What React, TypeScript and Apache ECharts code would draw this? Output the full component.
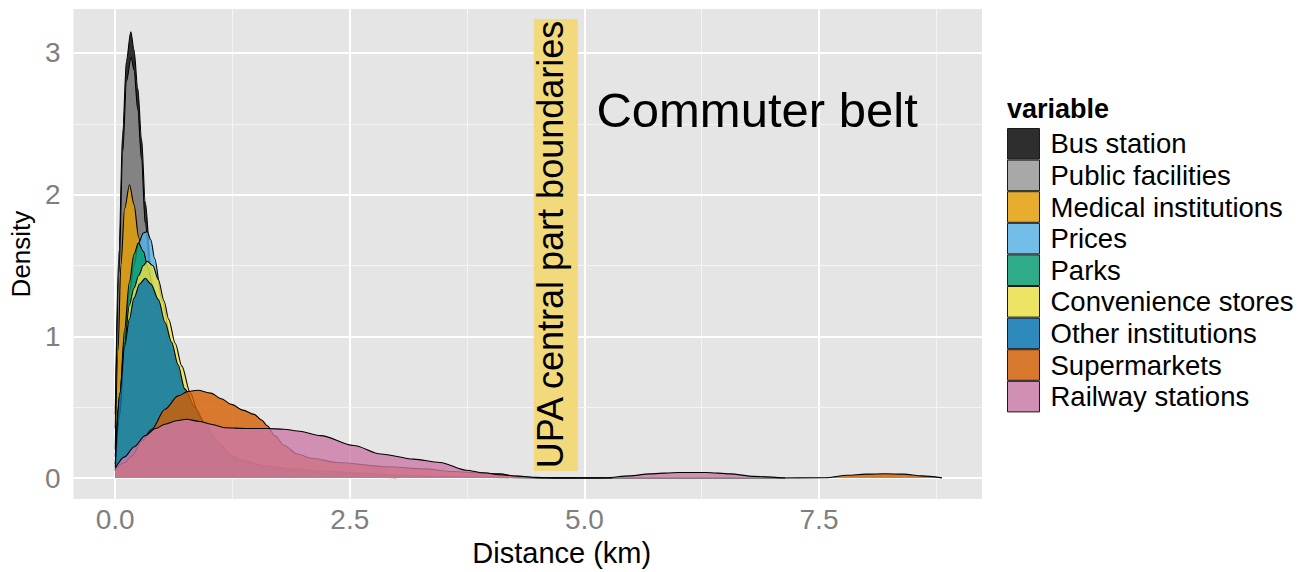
import React, { useEffect, useRef } from 'react';
import * as echarts from 'echarts';

const FONT = '"Liberation Sans", Arial, Helvetica, sans-serif';

const seriesNames = [
  'Bus station',
  'Public facilities',
  'Medical institutions',
  'Prices',
  'Parks',
  'Convenience stores',
  'Other institutions',
  'Supermarkets',
  'Railway stations',
];

// fills (alpha 0.8) and their legend key look over the grey panel
const fillColors = [
  'rgba(0,0,0,0.8)',
  'rgba(153,153,153,0.8)',
  'rgba(230,159,0,0.8)',
  'rgba(86,180,233,0.8)',
  'rgba(0,158,115,0.8)',
  'rgba(240,228,66,0.8)',
  'rgba(0,114,178,0.8)',
  'rgba(213,94,0,0.8)',
  'rgba(204,121,167,0.8)',
];
const legendColors = ['#2E2E2E', '#A8A8A8', '#E6AD2E', '#73BEE8', '#2EAC8A', '#EEE463', '#2E89BC', '#D8792E', '#D18FB4'];

const busStation = [[0,0.45],[0.04,1.6],[0.08,2.45],[0.12,2.95],[0.166,3.15],[0.2,3.02],[0.24,2.75],[0.28,2.4],[0.32,1.95],[0.38,1.5],[0.45,1.15],[0.55,0.86],[0.65,0.66],[0.75,0.5],[0.9,0.32],[1.1,0.18],[1.4,0.09],[1.8,0.04],[2.4,0.015],[3.2,0.004]];
const publicFacilities = [[0,0.35],[0.04,1.45],[0.08,2.3],[0.12,2.8],[0.17,2.97],[0.2,2.88],[0.24,2.6],[0.28,2.25],[0.32,1.8],[0.38,1.4],[0.45,1.08],[0.55,0.8],[0.65,0.6],[0.75,0.45],[0.9,0.28],[1.1,0.15],[1.4,0.07],[1.8,0.03],[2.4,0.01],[3.0,0.003]];
const medical = [[0,0.2],[0.03,0.9],[0.06,1.5],[0.1,1.9],[0.152,2.07],[0.2,1.93],[0.25,1.7],[0.3,1.45],[0.35,1.22],[0.45,0.95],[0.55,0.74],[0.7,0.5],[0.9,0.3],[1.2,0.15],[1.6,0.07],[2.2,0.03],[3.0,0.008]];
const prices = [[0,0.15],[0.05,0.6],[0.1,1.0],[0.15,1.3],[0.2,1.5],[0.25,1.66],[0.3,1.73],[0.34,1.74],[0.38,1.68],[0.42,1.55],[0.5,1.25],[0.6,0.95],[0.7,0.7],[0.8,0.5],[1.0,0.28],[1.3,0.12],[1.8,0.05],[2.5,0.02],[3.2,0.005]];
const parks = [[0,0.1],[0.05,0.58],[0.1,1.05],[0.15,1.38],[0.2,1.58],[0.247,1.66],[0.3,1.6],[0.35,1.48],[0.4,1.35],[0.5,1.1],[0.6,0.88],[0.7,0.68],[0.8,0.5],[1.0,0.28],[1.3,0.13],[1.8,0.05],[2.5,0.02],[3.5,0.005]];
const convenience = [[0,0.05],[0.05,0.45],[0.1,0.95],[0.15,1.22],[0.2,1.34],[0.25,1.43],[0.3,1.5],[0.34,1.53],[0.4,1.5],[0.46,1.4],[0.52,1.25],[0.57,1.12],[0.64,0.95],[0.71,0.79],[0.8,0.6],[0.9,0.43],[1.0,0.3],[1.3,0.12],[1.8,0.05],[2.5,0.02],[3.5,0.005]];
const otherInstitutions = [[0,0.08],[0.05,0.6],[0.1,0.93],[0.15,1.12],[0.2,1.27],[0.26,1.37],[0.32,1.41],[0.38,1.37],[0.46,1.26],[0.53,1.1],[0.6,0.96],[0.67,0.8],[0.74,0.63],[0.85,0.5],[0.95,0.39],[1.1,0.25],[1.24,0.16],[1.4,0.11],[1.6,0.087],[1.9,0.065],[2.2,0.05],[2.6,0.035],[3.0,0.022],[3.5,0.012],[4.0,0.005],[4.5,0.002],[5.3,0.001]];
const supermarkets = [[0,0.063],[0.1,0.11],[0.18,0.157],[0.28,0.26],[0.39,0.345],[0.53,0.486],[0.67,0.58],[0.78,0.612],[0.88,0.62],[1.02,0.6],[1.13,0.56],[1.24,0.52],[1.36,0.48],[1.48,0.45],[1.56,0.41],[1.62,0.37],[1.7,0.3],[1.8,0.23],[1.94,0.17],[2.1,0.14],[2.37,0.11],[2.9,0.08],[3.3,0.065],[3.6,0.047],[3.9,0.036],[4.1,0.03],[4.27,0.012],[4.5,0.003],[5.0,0.001],[6.0,0.001],[7.0,0.001],[7.57,0.003],[7.8,0.02],[8.0,0.028],[8.2,0.031],[8.4,0.028],[8.59,0.016],[8.81,0.002]];
const railway = [[0,0.07],[0.1,0.15],[0.2,0.22],[0.32,0.3],[0.43,0.35],[0.53,0.38],[0.65,0.405],[0.76,0.415],[0.9,0.4],[1.02,0.38],[1.17,0.355],[1.4,0.35],[1.62,0.35],[1.8,0.345],[1.94,0.333],[2.19,0.3],[2.54,0.23],[2.83,0.17],[3.18,0.134],[3.46,0.11],[3.74,0.056],[3.92,0.038],[4.1,0.024],[4.3,0.014],[4.48,0.005],[4.7,0.001],[5.0,0.001],[5.23,0.003],[5.48,0.016],[5.7,0.03],[6.0,0.04],[6.3,0.04],[6.55,0.03],[6.81,0.012],[7.14,0.001]];

const seriesData = [busStation, publicFacilities, medical, prices, parks, convenience, otherInstitutions, supermarkets, railway];

const xMajor = [0, 2.5, 5, 7.5];
const xMinor = [1.25, 3.75, 6.25, 8.75];
const yMajor = [0, 1, 2, 3];
const yMinor = [0.5, 1.5, 2.5];

const xRange = [-0.445, 9.237];
const yRange = [-0.148, 3.31];

// annotation positions in data units
const upaBox = [4.46, 0.05, 4.93, 3.24];
const upaText = 'UPA central part boundaries';
const upaTextPos = [4.64, 1.648];
const beltText = 'Commuter belt';
const beltTextPos = [6.84, 2.595];

export default function App() {
  const ref = useRef<HTMLDivElement>(null);
  useEffect(() => {
    const chart = echarts.init(ref.current!, null, { renderer: 'svg' });
    const gridLines = [
      ...xMajor.map((v) => ({ xAxis: v, lineStyle: { color: '#FFFFFF', width: 2, type: 'solid' } })),
      ...xMinor.map((v) => ({ xAxis: v, lineStyle: { color: '#F4F4F4', width: 1, type: 'solid' } })),
      ...yMajor.map((v) => ({ yAxis: v, lineStyle: { color: '#FFFFFF', width: 2, type: 'solid' } })),
      ...yMinor.map((v) => ({ yAxis: v, lineStyle: { color: '#F4F4F4', width: 1, type: 'solid' } })),
    ];
    const option: any = {
      animation: false,
      backgroundColor: '#FFFFFF',
      title: {
        text: 'variable',
        left: 1007,
        top: 95,
        padding: 0,
        textStyle: { fontSize: 27, fontWeight: 'bold', color: '#000', fontFamily: FONT },
      },
      legend: {
        orient: 'vertical',
        left: 1007,
        top: 128,
        padding: 0,
        itemWidth: 32,
        itemHeight: 30.6,
        itemGap: 0,
        icon: 'rect',
        selectedMode: false,
        data: seriesNames.map((n, i) => ({
          name: n,
          itemStyle: { color: legendColors[i], borderColor: '#1A1A1A', borderWidth: 1 },
        })),
        textStyle: { fontSize: 27.5, lineHeight: 30, color: '#000', fontFamily: FONT, padding: [0, 0, 0, 6] },
      },
      grid: {
        left: 68,
        right: 325,
        top: 9,
        bottom: 72,
        show: true,
        backgroundColor: '#E5E5E5',
        borderWidth: 0,
      },
      xAxis: {
        type: 'value',
        min: xRange[0],
        max: xRange[1],
        axisLine: { show: false },
        splitLine: { show: false },
        axisTick: { show: true, customValues: xMajor, length: 7, lineStyle: { color: '#7F7F7F', width: 1.5 } },
        axisLabel: {
          customValues: xMajor,
          formatter: (v: number) => v.toFixed(1),
          fontSize: 28,
          color: '#7F7F7F',
          margin: 6,
          fontFamily: FONT,
        },
        name: 'Distance (km)',
        nameLocation: 'middle',
        nameGap: 37,
        nameTextStyle: { fontSize: 29, color: '#000', fontFamily: FONT, padding: [0, 0, 0, 68] },
      },
      yAxis: {
        type: 'value',
        min: yRange[0],
        max: yRange[1],
        axisLine: { show: false },
        splitLine: { show: false },
        axisTick: { show: true, customValues: yMajor, length: 7, lineStyle: { color: '#7F7F7F', width: 1.5 } },
        axisLabel: {
          customValues: yMajor,
          formatter: (v: number) => String(v),
          fontSize: 28,
          color: '#7F7F7F',
          margin: 13,
          fontFamily: FONT,
        },
        name: 'Density',
        nameLocation: 'middle',
        nameGap: 28,
        nameTextStyle: { fontSize: 26, color: '#000', fontFamily: FONT },
      },
      series: [
        {
          name: '__grid',
          type: 'scatter',
          data: [[0, 0]],
          symbolSize: 0,
          silent: true,
          z: 1,
          markLine: {
            silent: true,
            z: 1,
            symbol: ['none', 'none'],
            label: { show: false },
            emphasis: { disabled: true },
            animation: false,
            data: gridLines,
          },
          markArea: {
            silent: true,
            z: 30,
            itemStyle: { color: '#F2D97C' },
            emphasis: { disabled: true },
            animation: false,
            data: [[{ coord: [upaBox[0], upaBox[1]] }, { coord: [upaBox[2], upaBox[3]] }]],
          },
        },
        ...seriesData.map((d, i) => ({
          name: seriesNames[i],
          type: 'line',
          data: d,
          smooth: 0.3,
          smoothMonotone: 'x',
          showSymbol: false,
          symbol: 'none',
          silent: true,
          z: 3 + i,
          lineStyle: { color: '#000', width: 1.1 },
          itemStyle: { color: legendColors[i] },
          areaStyle: { color: fillColors[i], opacity: 1 },
          emphasis: { disabled: true },
        })),
      ],
    };
    chart.setOption(option);
    const pBelt = chart.convertToPixel({ gridIndex: 0 }, beltTextPos) as number[];
    const pUpa = chart.convertToPixel({ gridIndex: 0 }, upaTextPos) as number[];
    chart.setOption({
      graphic: [
        {
          type: 'text',
          x: pBelt[0],
          y: pBelt[1],
          z: 100,
          silent: true,
          style: {
            text: beltText,
            fontSize: 49,
            fontFamily: FONT,
            fill: '#000',
            align: 'center',
            verticalAlign: 'middle',
          },
        },
        {
          type: 'text',
          x: pUpa[0],
          y: pUpa[1],
          rotation: Math.PI / 2,
          z: 100,
          silent: true,
          style: {
            text: upaText,
            fontSize: 36,
            fontFamily: FONT,
            fill: '#000',
            align: 'center',
            verticalAlign: 'middle',
          },
        },
      ],
    });
    return () => chart.dispose();
  }, []);
  return (
    <div
      ref={ref}
      style={{ position: 'fixed', left: 0, top: 0, width: 1307, height: 572, background: '#FFFFFF' }}
    />
  );
}
